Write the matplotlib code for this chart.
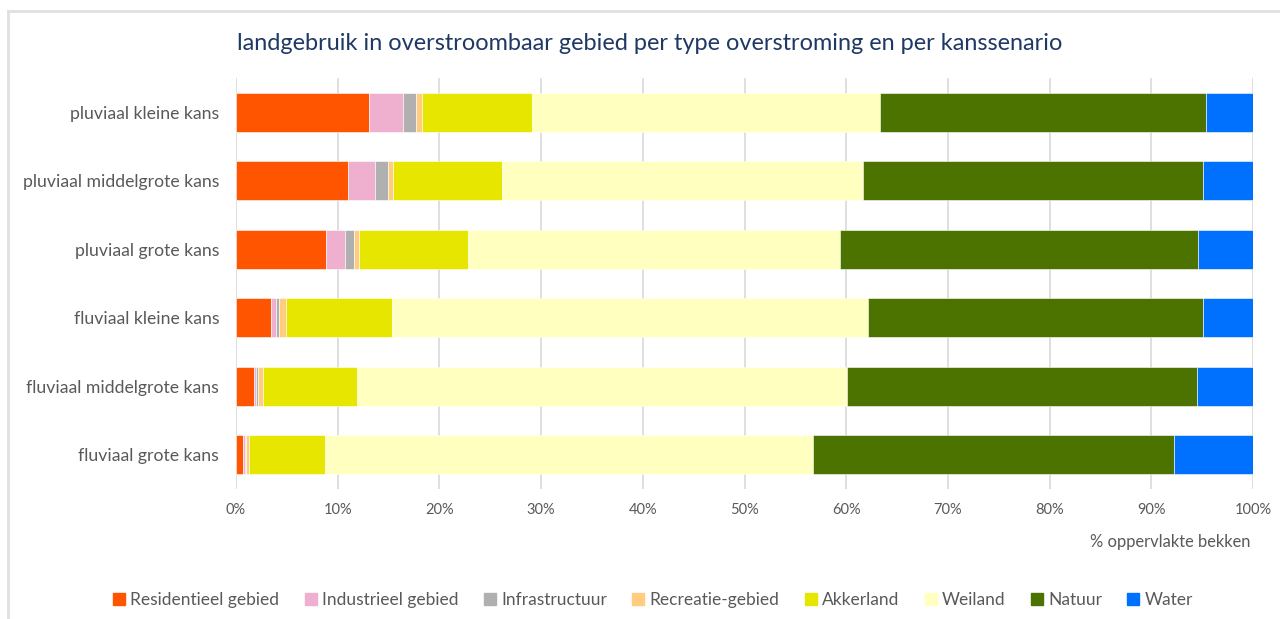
import numpy as np
import matplotlib.pyplot as plt
from matplotlib.lines import Line2D

plt.rcParams['font.family'] = ['Lato', 'DejaVu Sans']

# scenarios, top to bottom as in the chart
scenarios = ['pluviaal kleine kans', 'pluviaal middelgrote kans', 'pluviaal grote kans',
             'fluviaal kleine kans', 'fluviaal middelgrote kans', 'fluviaal grote kans']

categories = ['Residentieel gebied', 'Industrieel gebied', 'Infrastructuur', 'Recreatie-gebied',
              'Akkerland', 'Weiland', 'Natuur', 'Water']
colors = ['#FF5500', '#EFB0D0', '#B0B0B0', '#FFCC80', '#E6E600', '#FFFFC0', '#4C7300', '#0070FF']

# % area per category (rows follow scenarios)
residentieel = [13.05, 11.02, 8.82, 3.42, 1.80, 0.66]
industrieel  = [3.35, 2.66, 1.87, 0.52, 0.20, 0.20]
infra        = [1.30, 1.22, 0.95, 0.26, 0.15, 0.15]
recreatie    = [0.60, 0.50, 0.50, 0.75, 0.55, 0.30]
akkerland    = [10.80, 10.80, 10.63, 10.43, 9.24, 7.46]
weiland      = [34.25, 35.45, 36.63, 46.78, 48.17, 47.94]
natuur       = [32.00, 33.40, 35.15, 32.92, 34.35, 35.52]
water        = [4.65, 4.95, 5.45, 4.92, 5.54, 7.77]

series = [residentieel, industrieel, infra, recreatie, akkerland, weiland, natuur, water]

fig = plt.figure(figsize=(12.8, 6.19), dpi=100)
ax = fig.add_axes([236/1280, 130/619, 1017/1280, 411/619])

ypos = np.arange(len(scenarios))
left = np.zeros(len(scenarios))
for vals, name, col in zip(series, categories, colors):
    v = np.array(vals)
    ax.barh(ypos, v, left=left, height=0.57, color=col, label=name,
            edgecolor='white', linewidth=0.4, zorder=3)
    left += v

ax.set_xlim(0, 100)
ax.set_ylim(len(scenarios) - 0.5, -0.5)
ax.set_yticks(ypos)
ax.set_yticklabels(scenarios, fontsize=12.7, color='#595959')
ax.set_xticks(np.arange(0, 101, 10))
ax.set_xticklabels([f'{t}%' for t in range(0, 101, 10)], fontsize=10.5, color='#595959')
ax.tick_params(axis='x', length=0, pad=10)
ax.tick_params(axis='y', length=0, pad=12)
ax.xaxis.grid(True, color='#D9D9D9', linewidth=1.2, zorder=0)
for s in ax.spines.values():
    s.set_visible(False)

fig.text(650/1280, 1 - 43/619, 'landgebruik in overstroombaar gebied per type overstroming en per kanssenario',
         ha='center', va='center', fontsize=16.9, color='#1F3864')
fig.text(1250/1280, 1 - 542/619, '% oppervlakte bekken', ha='right', va='center',
         fontsize=11.9, color='#595959')

handles = [Line2D([], [], marker='s', linestyle='none', markersize=8, color=c) for c in colors]
fig.legend(handles, categories, loc='center', bbox_to_anchor=(653/1280, 1 - 600/619), ncol=8,
           frameon=False, fontsize=12.5, labelcolor='#595959', handletextpad=0.3,
           columnspacing=1.45, handlelength=0.7)

# chart border (top and left visible)
fig.add_artist(Line2D([8/1280, 1], [1 - 11/619, 1 - 11/619], color='#E0E0E0', linewidth=2))
fig.add_artist(Line2D([8/1280, 8/1280], [0, 1 - 11/619], color='#E0E0E0', linewidth=2))

fig.savefig('out.png', dpi=100)
